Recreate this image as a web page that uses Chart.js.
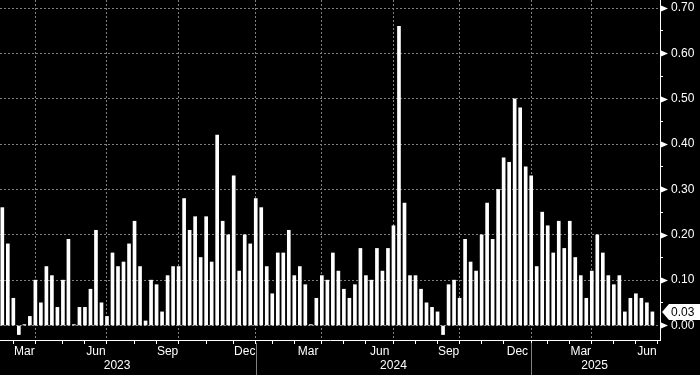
<!DOCTYPE html>
<html>
<head>
<meta charset="utf-8">
<title>Weekly bars</title>
<script src="https://cdn.jsdelivr.net/npm/chart.js@4.4.1/dist/chart.umd.min.js"></script>
<style>
  html, body { margin: 0; padding: 0; background: #000; }
  canvas { display: block; }
</style>
</head>
<body>
<canvas id="grafico" width="700" height="375"></canvas>
<script>
// months on the chart and how many weekly bars fall in each of them
const months = [
    "2023-02", "2023-03", "2023-04", "2023-05", "2023-06", "2023-07", "2023-08", "2023-09", "2023-10", "2023-11", "2023-12",
    "2024-01", "2024-02", "2024-03", "2024-04", "2024-05", "2024-06", "2024-07", "2024-08", "2024-09", "2024-10", "2024-11", "2024-12",
    "2025-01", "2025-02", "2025-03", "2025-04", "2025-05", "2025-06"
];
const barsPerMonth = [
    2, 4, 5, 4, 4, 5, 4, 4, 5, 5, 4,
    3, 4, 5, 4, 4, 5, 4, 4, 4, 4, 4, 5,
    3, 4, 4, 4, 4, 4
];

// weekly values, oldest first
const values = [
    0.26, 0.18, 0.06, -0.02, 0.002, 0.02, 0.10, 0.05, 0.13, 0.11,
    0.04, 0.10, 0.19, 0.002, 0.04, 0.04, 0.08, 0.21, 0.05, 0.02,
    0.16, 0.13, 0.14, 0.18, 0.23, 0.13, 0.01, 0.10, 0.09, 0.03,
    0.11, 0.13, 0.13, 0.28, 0.21, 0.24, 0.15, 0.24, 0.14, 0.42,
    0.23, 0.20, 0.33, 0.12, 0.20, 0.18, 0.28, 0.26, 0.13, 0.07,
    0.16, 0.16, 0.21, 0.11, 0.13, 0.09, 0.002, 0.06, 0.11, 0.10,
    0.16, 0.12, 0.08, 0.06, 0.09, 0.17, 0.11, 0.10, 0.17, 0.12,
    0.17, 0.22, 0.66, 0.27, 0.11, 0.11, 0.08, 0.05, 0.04, 0.03,
    -0.02, 0.09, 0.10, 0.06, 0.19, 0.14, 0.12, 0.20, 0.27, 0.19,
    0.30, 0.37, 0.36, 0.50, 0.48, 0.35, 0.33, 0.13, 0.25, 0.22,
    0.16, 0.23, 0.17, 0.23, 0.15, 0.11, 0.06, 0.12, 0.20, 0.16,
    0.11, 0.09, 0.11, 0.03, 0.06, 0.07, 0.06, 0.05, 0.03
];

const monthNames = { 3: "Mar", 6: "Jun", 9: "Sep", 12: "Dec" };
const yTickValues = [0, 0.05, 0.10, 0.15, 0.20, 0.25, 0.30, 0.35, 0.40, 0.45, 0.50, 0.55, 0.60, 0.65, 0.70];

const FONT = "'Liberation Sans', Arial, sans-serif";
const WHITE = "#ffffff";
const GRID = "#808080";
const NONE = "rgba(0,0,0,0)";

/* -------------------------------
   weekly labels and month ticks
   ------------------------------- */
const labels = [];
const monthStart = [];
months.forEach((m, i) => {
    monthStart.push(labels.length);
    for (let k = 0; k < barsPerMonth[i]; k++) labels.push(m + " w" + (k + 1));
});
const endIndex = labels.length;

const xTicks = [];
months.forEach((m, i) => {
    const s = monthStart[i];
    const next = i + 1 < months.length ? monthStart[i + 1] : endIndex;
    const mm = Number(m.slice(5));
    if (i > 0) xTicks.push({ value: s, label: "", grid: mm % 3 === 1 });
    if (monthNames[mm]) xTicks.push({ value: (s + next) / 2, label: monthNames[mm], mid: true });
});
xTicks.push({ value: endIndex, label: "", grid: false });

const isMajor = v => Math.round(v * 100) % 10 === 0;

/* -------------------------------
   extra marks: arrows, last value, years
   ------------------------------- */
const extras = {
    id: "extras",
    afterDraw(chart) {
        const { ctx, chartArea } = chart;
        const x = chart.scales.x, y = chart.scales.y;
        const right = chartArea.right;
        ctx.save();

        // little markers on the labelled y ticks
        ctx.fillStyle = WHITE;
        yTickValues.filter(isMajor).forEach(v => {
            const py = Math.round(y.getPixelForValue(v)) + 0.5;
            ctx.beginPath();
            ctx.moveTo(right + 1, py - 3);
            ctx.lineTo(right + 8, py);
            ctx.lineTo(right + 1, py + 3);
            ctx.closePath();
            ctx.fill();
        });

        // last value tag
        const last = values[values.length - 1];
        const ly = y.getPixelForValue(last);
        ctx.fillStyle = WHITE;
        ctx.beginPath();
        ctx.moveTo(right + 2, ly);
        ctx.lineTo(right + 9, ly - 8);
        ctx.lineTo(700, ly - 8);
        ctx.lineTo(700, ly + 8);
        ctx.lineTo(right + 9, ly + 8);
        ctx.closePath();
        ctx.fill();
        ctx.fillStyle = "#000";
        ctx.font = "12px " + FONT;
        ctx.textBaseline = "middle";
        ctx.textAlign = "left";
        ctx.fillText(last.toFixed(2), right + 11, ly + 1);

        // years under the month labels
        const years = [...new Set(months.map(m => m.slice(0, 4)))];
        ctx.font = "12px " + FONT;
        ctx.textAlign = "center";
        ctx.fillStyle = WHITE;
        years.forEach(yr => {
            const idx = months.map((m, i) => m.startsWith(yr) ? i : -1).filter(i => i >= 0);
            const first = idx[0], lastM = idx[idx.length - 1];
            let s = monthStart[first];
            const firstMonth = Number(months[first].slice(5));
            s -= (firstMonth - 1) * 52 / 12;
            const e = lastM + 1 < months.length ? monthStart[lastM + 1] : endIndex;
            ctx.fillText(yr, x.getPixelForValue((s + e) / 2), 366);

            if (months[first].endsWith("-01")) {
                const px = Math.round(x.getPixelForValue(monthStart[first])) + 0.5;
                ctx.strokeStyle = GRID;
                ctx.lineWidth = 1;
                ctx.beginPath();
                ctx.moveTo(px, chartArea.bottom + 3);
                ctx.lineTo(px, 375);
                ctx.stroke();
            }
        });

        ctx.restore();
    }
};

new Chart(document.getElementById("grafico"), {
    type: "bar",
    data: {
        labels: labels,
        datasets: [{
            data: values.map((v, i) => ({ x: i, y: v })),
            backgroundColor: WHITE,
            borderWidth: 0,
            barThickness: 3
        }]
    },
    options: {
        responsive: false,
        animation: false,
        devicePixelRatio: 1,
        layout: { padding: 0 },
        plugins: { legend: { display: false }, tooltip: { enabled: false } },
        scales: {
            x: {
                type: "linear",
                offset: false,
                min: -0.42,
                max: 119.38,
                afterBuildTicks: s => { s.ticks = xTicks.map(t => ({ value: t.value })); },
                afterFit: s => { s.height = 35; s.paddingLeft = 0; s.paddingRight = 0; },
                grid: {
                    offset: false,
                    color: c => (xTicks[c.index] && xTicks[c.index].grid) ? GRID : NONE,
                    tickColor: c => (xTicks[c.index] && !xTicks[c.index].mid) ? WHITE : NONE,
                    lineWidth: 1,
                    tickWidth: 1,
                    tickLength: 4
                },
                border: { display: true, color: WHITE, width: 1, dash: [2, 2] },
                ticks: {
                    autoSkip: false,
                    maxRotation: 0,
                    padding: 0,
                    color: WHITE,
                    font: { family: FONT, size: 12 },
                    callback: (v, i) => xTicks[i] ? xTicks[i].label : ""
                }
            },
            y: {
                position: "right",
                min: -0.032,
                max: 0.718,
                afterBuildTicks: s => { s.ticks = yTickValues.map(v => ({ value: v })); },
                afterFit: s => { s.width = 40; s.paddingTop = 0; s.paddingBottom = 0; },
                grid: {
                    color: c => (c.tick && isMajor(c.tick.value)) ? GRID : NONE,
                    tickColor: WHITE,
                    lineWidth: 1,
                    tickWidth: 1,
                    tickLength: 3
                },
                border: { display: true, color: WHITE, width: 1, dash: [2, 2] },
                ticks: {
                    padding: 8,
                    color: WHITE,
                    font: { family: FONT, size: 12 },
                    callback: v => isMajor(v) ? v.toFixed(2) : ""
                }
            }
        }
    },
    plugins: [extras]
});
</script>
</body>
</html>
